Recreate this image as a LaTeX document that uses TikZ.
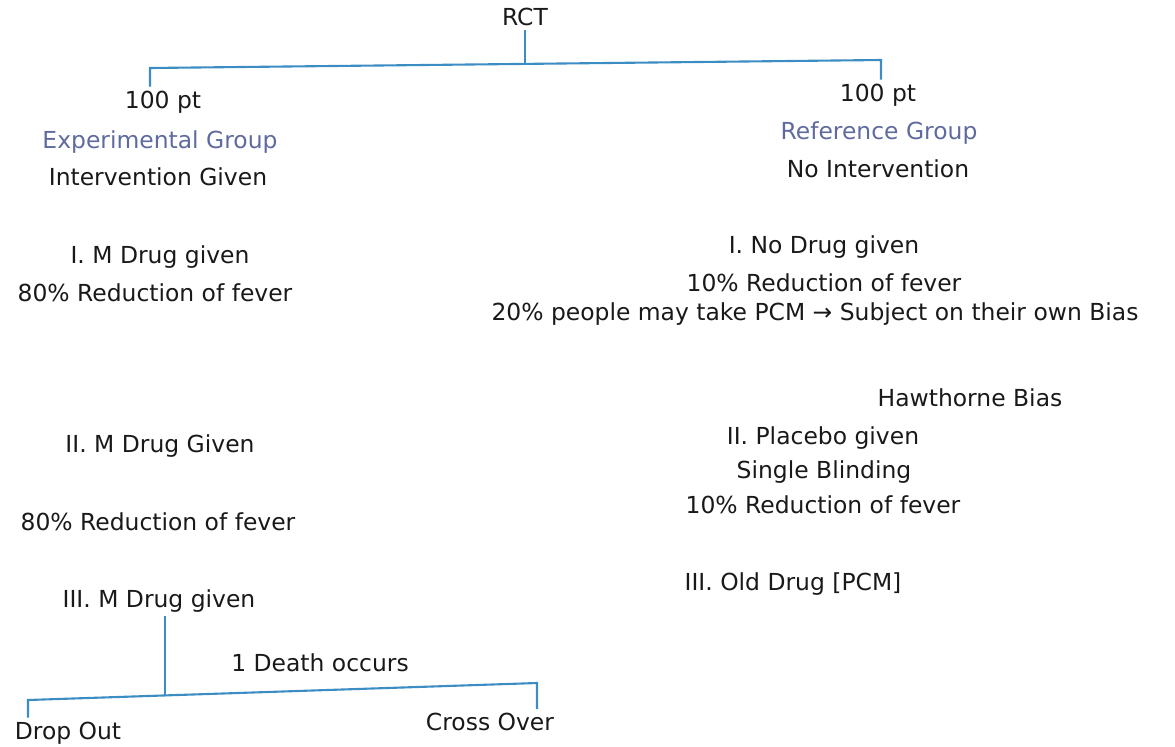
\documentclass[tikz,border=0pt]{standalone}
\usepackage{fontspec}
\setmainfont{DejaVu Sans}
\definecolor{lineblue}{HTML}{3C8DC4}
\definecolor{groupblue}{HTML}{5F6B9E}
\begin{document}
\begin{tikzpicture}[x=0.03cm,y=-0.03cm,
  every node/.style={font=\fontsize{20}{24}\selectfont,text=black!90},
  grp/.style={text=groupblue},
  branch/.style={draw=lineblue,line width=1.8pt}]
\useasboundingbox (0,0) rectangle (1175,746);
\node (rct) at (525,17) {RCT};

% experimental arm
\node (expn) at (163,102) {100 pt};
\node[grp] (expgrp) at (160,142) {Experimental Group};
\node (expint) at (158,177) {Intervention Given};
\node (mdrugA) at (160,257) {I. M Drug given};
\node (mredA) at (155,293) {80\% Reduction of fever};
\node (mdrugB) at (160,446) {II. M Drug Given};
\node (mredB) at (158,522) {80\% Reduction of fever};
\node (mdrugC) at (159,601) {III. M Drug given};
\node (death) at (320,663) {1 Death occurs};
\node (drop) at (68,733) {Drop Out};
\node (cross) at (490,722) {Cross Over};

% reference arm
\node (refn) at (878,95) {100 pt};
\node[grp] (refgrp) at (879,133) {Reference Group};
\node (refint) at (878,169) {No Intervention};
\node (nodrug) at (824,247) {I. No Drug given};
\node (nored) at (824,283) {10\% Reduction of fever};
\node (pcm) at (815,314) {20\% people may take PCM → Subject on their own Bias};
\node (hawth) at (970,398) {Hawthorne Bias};
\node (placebo) at (823,438) {II. Placebo given};
\node (single) at (824,472) {Single Blinding};
\node (plred) at (823,505) {10\% Reduction of fever};
\node (olddrug) at (793,584) {III. Old Drug [PCM]};

% top split
\coordinate (topjoin) at (525,64);
\coordinate (topleft) at (150,68);
\coordinate (topright) at (881,60);
\draw[branch] (rct.south) -- (topjoin);
\draw[branch] (topleft |- expn.north) -- (topleft) -- (topright) -- (topright |- refn.north);

% bottom split
\coordinate (mjoin) at (165,695);
\coordinate (dleft) at (28,700);
\coordinate (dright) at (537,683);
\draw[branch] (mdrugC.south -| mjoin) -- (mjoin);
\draw[branch] (drop.north -| dleft) -- (dleft) -- (dright) -- (cross.north -| dright);
\end{tikzpicture}
\end{document}
